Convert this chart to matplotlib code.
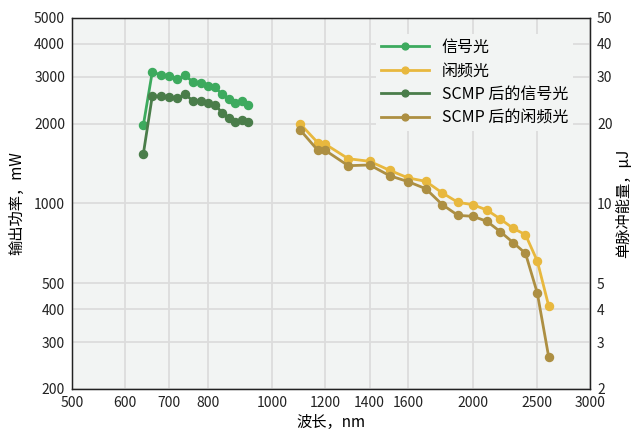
import matplotlib
matplotlib.use("Agg")
import matplotlib.pyplot as plt
from matplotlib.ticker import FixedLocator, FixedFormatter, NullLocator

plt.rcParams['font.family'] = ['Noto Sans CJK SC', 'DejaVu Sans']

# data
signal_wl = [640, 660, 680, 700, 720, 740, 760, 780, 800, 820, 840, 860, 880, 900, 920]
signal_pw = [1975, 3130, 3050, 3030, 2945, 3040, 2860, 2850, 2770, 2740, 2580, 2470, 2390, 2430, 2350]
scmp_signal_pw = [1540, 2540, 2540, 2525, 2490, 2580, 2430, 2440, 2385, 2355, 2200, 2105, 2035, 2065, 2035]

idler_wl = [1100, 1170, 1200, 1300, 1400, 1500, 1600, 1700, 1800, 1900, 2000, 2100, 2200, 2300, 2400, 2500, 2600]
idler_pw = [2000, 1695, 1675, 1475, 1442, 1334, 1248, 1212, 1096, 1010, 990, 945, 874, 806, 763, 607, 412]
scmp_idler_pw = [1897, 1587, 1587, 1388, 1397, 1273, 1208, 1137, 990, 902, 895, 857, 783, 712, 649, 460, 265]

labels = ['信号光', '闲频光', 'SCMP 后的信号光', 'SCMP 后的闲频光']
colors = ['#3daa5e', '#e8b83e', '#4a7d4a', '#ad8f42']

x_ticks = [500, 600, 700, 800, 1000, 1200, 1400, 1600, 2000, 2500, 3000]
y_ticks = [200, 300, 400, 500, 1000, 2000, 3000, 4000, 5000]
y2_ticks = [2, 3, 4, 5, 10, 20, 30, 40, 50]

fig = plt.figure(figsize=(6.35, 4.33), dpi=100)
ax = fig.add_axes([72/635, 1-389/433, (590-72)/635, (389-18)/433])
ax.set_facecolor('#f2f4f3')

series = [(signal_wl, signal_pw), (idler_wl, idler_pw),
          (signal_wl, scmp_signal_pw), (idler_wl, scmp_idler_pw)]
for (xw, yp), lab, c in zip(series, labels, colors):
    ax.plot(xw, yp, '-o', color=c, lw=2.0, ms=5.8, label=lab, zorder=3)

ax.set_xscale('log')
ax.set_yscale('log')
ax.set_xlim(500, 3000)
ax.set_ylim(200, 5000)
ax.xaxis.set_major_locator(FixedLocator(x_ticks))
ax.xaxis.set_major_formatter(FixedFormatter([str(v) for v in x_ticks]))
ax.xaxis.set_minor_locator(NullLocator())
ax.yaxis.set_major_locator(FixedLocator(y_ticks))
ax.yaxis.set_major_formatter(FixedFormatter([str(v) for v in y_ticks]))
ax.yaxis.set_minor_locator(NullLocator())
ax.tick_params(length=0, pad=5, labelsize=10, colors='#222222')
ax.grid(True, color='#dcdcdc', lw=1.3, zorder=0)
ax.set_axisbelow(True)
for s in ax.spines.values():
    s.set_color('#222222')
    s.set_linewidth(1.0)

ax.set_xlabel('波长，nm', fontsize=11, labelpad=3)
ax.set_ylabel('输出功率，mW', fontsize=11, labelpad=6)

ax2 = ax.twinx()
ax2.set_yscale('log')
ax2.set_ylim(2, 50)
ax2.yaxis.set_major_locator(FixedLocator(y2_ticks))
ax2.yaxis.set_major_formatter(FixedFormatter([str(v) for v in y2_ticks]))
ax2.yaxis.set_minor_locator(NullLocator())
ax2.tick_params(length=0, pad=5, labelsize=10, colors='#222222')
ax2.set_ylabel('单脉冲能量，µJ', fontsize=11, labelpad=2)
for s in ax2.spines.values():
    s.set_color('#222222')

leg = ax.legend(loc='upper left', bbox_to_anchor=(0.572, 0.978), fontsize=11.5,
                frameon=True, facecolor='#f2f4f3', edgecolor='none', framealpha=1,
                handlelength=3.0, handletextpad=0.8, labelspacing=0.4,
                borderpad=0.3, markerscale=0.85)
leg.set_zorder(5)

fig.savefig('out.png', dpi=100)
